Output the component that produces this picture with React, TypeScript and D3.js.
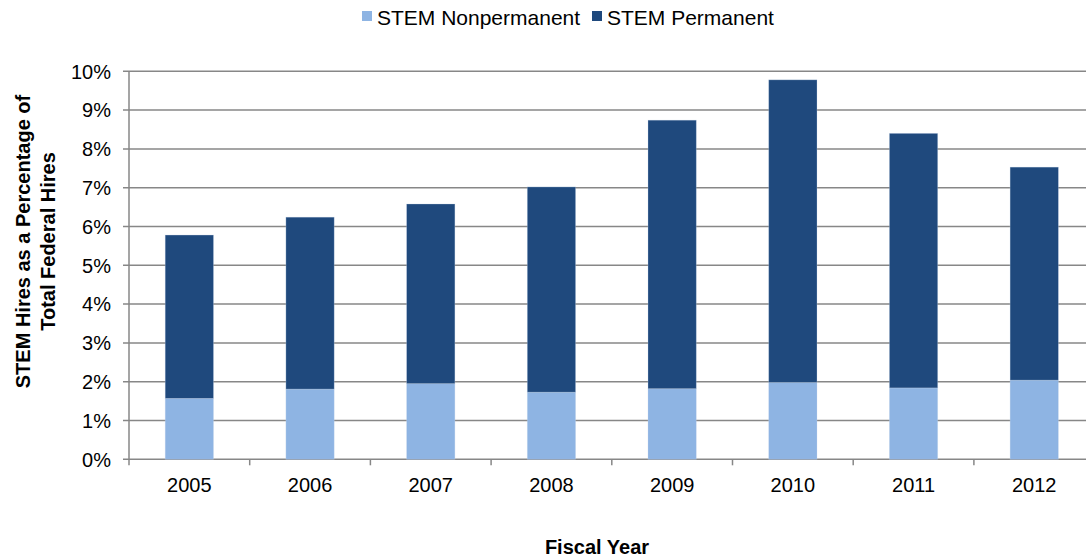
import React from "react";
import * as d3 from "d3";

const years = ["2005", "2006", "2007", "2008", "2009", "2010", "2011", "2012"];
const nonpermanent = [1.57, 1.81, 1.95, 1.73, 1.82, 1.98, 1.84, 2.04];
const total = [5.78, 6.24, 6.58, 7.02, 8.74, 9.78, 8.40, 7.53];
const yTicks = [0, 1, 2, 3, 4, 5, 6, 7, 8, 9, 10];
const seriesNames = ["STEM Nonpermanent", "STEM Permanent"];
const colors = ["#8EB4E3", "#1F497D"];

export default function App() {
  const W = 1086, H = 558;
  const left = 129, right = 1094.6, top = 71.3, bottom = 459.3;
  const x = d3.scaleBand<string>().domain(years).range([left, right]).paddingInner(0).paddingOuter(0);
  const y = d3.scaleLinear().domain([0, 10]).range([bottom, top]);
  const bw = x.bandwidth() * 0.4;
  const font = "'Liberation Sans', Arial, sans-serif";
  const grid = "#878787";
  const stackData = years.map((yr, i) => ({ year: yr, np: nonpermanent[i], p: total[i] - nonpermanent[i] }));
  const stacked = d3.stack<any>().keys(["np", "p"])(stackData);

  return (
    <svg width={W} height={H} style={{ position: "absolute", left: 0, top: 0, background: "#fff" }} fontFamily={font}>
      {/* gridlines */}
      {yTicks.map((t) => (
        <line key={"g" + t} x1={left - 6} x2={W} y1={y(t)} y2={y(t)} stroke={grid} strokeWidth={1.5} />
      ))}
      {/* y labels */}
      {yTicks.map((t) => (
        <text key={"yl" + t} x={111} y={y(t)} dy="0.36em" textAnchor="end" fontSize={20} fill="#000">
          {t + "%"}
        </text>
      ))}
      {/* bars */}
      {stacked.map((s, si) =>
        s.map((d, i) => (
          <rect
            key={si + "-" + i}
            x={(x(years[i]) as number) + (x.bandwidth() - bw) / 2}
            y={y(d[1])}
            width={bw}
            height={y(d[0]) - y(d[1])}
            fill={colors[si]}
            stroke="#c8d6ea"
            strokeOpacity={0.35}
            strokeWidth={0.8}
          />
        ))
      )}
      {/* y axis line */}
      <line x1={left} x2={left} y1={top} y2={bottom} stroke={grid} strokeWidth={1.5} />
      {/* x ticks */}
      {years.map((yr, i) => (
        <line key={"xt" + i} x1={x(yr) as number} x2={x(yr) as number} y1={bottom} y2={bottom + 6} stroke={grid} strokeWidth={1.5} />
      ))}
      {/* x labels */}
      {years.map((yr) => (
        <text key={"xl" + yr} x={(x(yr) as number) + x.bandwidth() / 2} y={492} textAnchor="middle" fontSize={20} fill="#000">
          {yr}
        </text>
      ))}
      {/* legend */}
      <rect x={362} y={11} width={10} height={10} fill={colors[0]} />
      <text x={377} y={25} fontSize={21} fill="#000">{seriesNames[0]}</text>
      <rect x={592} y={11} width={10} height={10} fill={colors[1]} />
      <text x={607} y={25} fontSize={21} fill="#000">{seriesNames[1]}</text>
      {/* y title */}
      <g transform="translate(30,241.5) rotate(-90)">
        <text textAnchor="middle" fontSize={20} fontWeight="bold" fill="#000">STEM Hires as a Percentage of</text>
      </g>
      <g transform="translate(55,241.5) rotate(-90)">
        <text textAnchor="middle" fontSize={20} fontWeight="bold" fill="#000">Total Federal Hires</text>
      </g>
      {/* x title */}
      <text x={597} y={554} textAnchor="middle" fontSize={20} fontWeight="bold" fill="#000">Fiscal Year</text>
    </svg>
  );
}
